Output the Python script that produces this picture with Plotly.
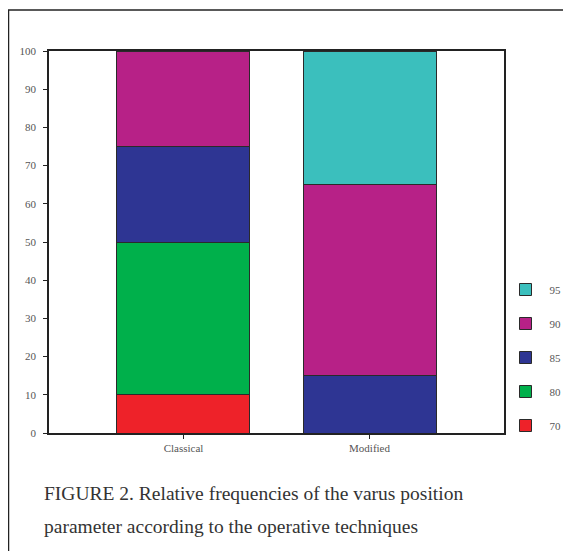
import plotly.graph_objects as go

categories = ["Classical", "Modified"]
series_names = ["70", "80", "85", "90", "95"]
values = {
    "70": [10, 0],
    "80": [40, 0],
    "85": [25, 15],
    "90": [25, 50],
    "95": [0, 35],
}
colors = {
    "70": "#EE2229",
    "80": "#00B04B",
    "85": "#2E3593",
    "90": "#B72187",
    "95": "#3BBFBD",
}
y_ticks = [0, 10, 20, 30, 40, 50, 60, 70, 80, 90, 100]
caption_lines = [
    "FIGURE 2. Relative frequencies of the varus position",
    "parameter according to the operative techniques",
]

# page has an 8px body margin; the figure is laid out in its own coordinates
OFF = 8
W, H = 571 - OFF, 551 - OFF
L, T = 49 - OFF, 51 - OFF
pw, ph = 455, 382
R, B = W - L - pw, H - T - ph
base = H - B  # figure y of the plot bottom


def px_x(page_x):
    return (page_x - OFF - L) / pw


def px_y(page_y):
    return (base - (page_y - OFF)) / ph


fig = go.Figure()
n = len(series_names)
for i, name in enumerate(series_names):
    fig.add_trace(go.Bar(
        x=[0, 1], y=values[name], name=name,
        marker=dict(color=colors[name], line=dict(color="#2a2a2a", width=1)),
        width=0.715, legendgroup=name, legendrank=n - i,
    ))

serif = "Liberation Serif"
fig.update_layout(
    width=W, height=H,
    margin=dict(l=L, r=R, t=T, b=B, pad=0, autoexpand=False),
    barmode="stack",
    paper_bgcolor="white", plot_bgcolor="white",
    font=dict(family=serif, color="#555", size=11),
    showlegend=True,
    legend=dict(
        x=(493.5 - L) / pw, xanchor="left",
        y=(base - 267) / ph, yanchor="top",
        traceorder="grouped", tracegroupgap=15,
        font=dict(family=serif, size=11, color="#555"),
        itemwidth=38, bgcolor="rgba(0,0,0,0)",
    ),
    xaxis=dict(
        tickmode="array", tickvals=[0, 1], ticktext=categories,
        range=[-0.723, 1.723],
        showline=True, linecolor="#222", linewidth=1.5, mirror=True,
        ticks="outside", ticklen=4, tickcolor="#222",
        showgrid=False, zeroline=False,
        tickfont=dict(family=serif, size=11, color="#555"),
    ),
    yaxis=dict(
        range=[0, 100], tickmode="array", tickvals=y_ticks,
        showline=True, linecolor="#222", linewidth=1.5, mirror=True,
        ticks="outside", ticklen=4, tickcolor="#222",
        ticklabelstandoff=5,
        showgrid=False, zeroline=False,
        tickfont=dict(family=serif, size=11, color="#555"),
    ),
)

# outer frame (top and left border of the figure box)
fig.add_shape(type="line", xref="paper", yref="paper",
              x0=px_x(7.5), x1=px_x(570), y0=px_y(10), y1=px_y(10),
              line=dict(color="#222", width=1.5))
fig.add_shape(type="line", xref="paper", yref="paper",
              x0=px_x(8.5), x1=px_x(8.5), y0=px_y(10), y1=px_y(560),
              line=dict(color="#222", width=1.5))

for i, line in enumerate(caption_lines):
    fig.add_annotation(
        xref="paper", yref="paper",
        x=px_x(42), xanchor="left",
        y=px_y(494 + 32 * i), yanchor="middle",
        text=line, showarrow=False,
        font=dict(family=serif, size=19.5, color="#333"),
    )

fig.write_html("out.html")
